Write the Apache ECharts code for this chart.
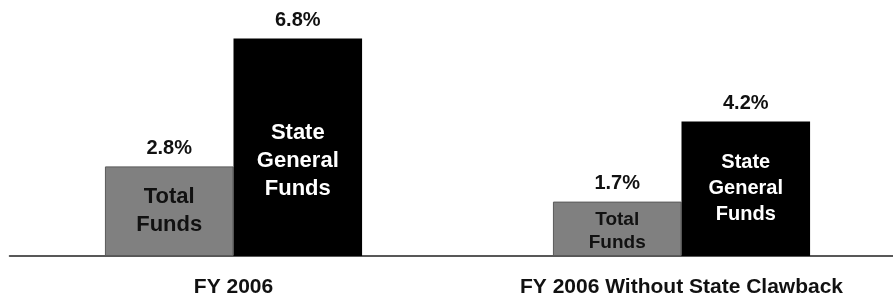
<!DOCTYPE html>
<html>
<head>
<meta charset="utf-8">
<script src="https://cdn.jsdelivr.net/npm/echarts@6/dist/echarts.min.js"></script>
<style>
  html, body { margin: 0; padding: 0; background: #fff; }
  #chart { width: 893px; height: 299px; }
</style>
</head>
<body>
<div id="chart"></div>
<script>
const categories = ['FY 2006', 'FY 2006 Without State Clawback']
const totalFunds = [2.8, 1.7]
const stateGeneralFunds = [6.8, 4.2]

const FONT = '"Liberation Sans", Arial, sans-serif'
const GAP = '42.6%'

// inner label sizes differ a bit per bar in the original
const totalInner = [
  { fontSize: 22, lineHeight: 28, offset: [0, 0] },
  { fontSize: 19, lineHeight: 23, offset: [0, 2] }
]
const stateInner = [
  { fontSize: 22, lineHeight: 28, offset: [0, 14] },
  { fontSize: 20, lineHeight: 26, offset: [0, 0] }
]

function innerData(values, text, inner, color) {
  return values.map((v, i) => ({
    value: v,
    label: {
      show: true,
      position: 'inside',
      formatter: text,
      color: color,
      fontFamily: FONT,
      fontWeight: 'bold',
      fontSize: inner[i].fontSize,
      lineHeight: inner[i].lineHeight,
      offset: inner[i].offset,
      overflow: 'none'
    }
  }))
}

// transparent copies of the bars on a hidden axis, only to carry the % labels
function valueSeries(values) {
  return {
    type: 'bar',
    xAxisIndex: 1,
    barGap: 0,
    barCategoryGap: GAP,
    silent: true,
    z: 3,
    itemStyle: { color: 'rgba(0,0,0,0)' },
    label: {
      show: true,
      position: 'top',
      distance: 8,
      formatter: p => p.value.toFixed(1) + '%',
      color: '#111',
      fontFamily: FONT,
      fontWeight: 'bold',
      fontSize: 20
    },
    data: values
  }
}

const chart = echarts.init(document.getElementById('chart'))

const option = {
  animation: false,
  // plot area runs a little past the right edge, like the original
  grid: { left: 9.5, right: -12.5, top: 0, bottom: 43, outerBoundsMode: 'none', containLabel: false },
  xAxis: [
    {
      type: 'category',
      data: categories,
      axisLine: { lineStyle: { color: '#222', width: 1.5 } },
      axisTick: { show: false },
      axisLabel: {
        color: '#111',
        fontFamily: FONT,
        fontWeight: 'bold',
        fontSize: 21,
        margin: 21
      }
    },
    {
      type: 'category',
      data: categories,
      show: false
    }
  ],
  yAxis: {
    type: 'value',
    min: 0,
    max: 8,
    show: false,
    splitLine: { show: false }
  },
  series: [
    {
      name: 'Total Funds',
      type: 'bar',
      barGap: 0,
      barCategoryGap: GAP,
      itemStyle: { color: '#808080', borderColor: '#5a5a5a', borderWidth: 1 },
      data: innerData(totalFunds, 'Total\nFunds', totalInner, '#111')
    },
    {
      name: 'State General Funds',
      type: 'bar',
      barGap: 0,
      barCategoryGap: GAP,
      itemStyle: { color: '#000' },
      data: innerData(stateGeneralFunds, 'State\nGeneral\nFunds', stateInner, '#fff')
    },
    valueSeries(totalFunds),
    valueSeries(stateGeneralFunds)
  ]
}

chart.setOption(option)
window.addEventListener('resize', () => chart.resize())
</script>
</body>
</html>
